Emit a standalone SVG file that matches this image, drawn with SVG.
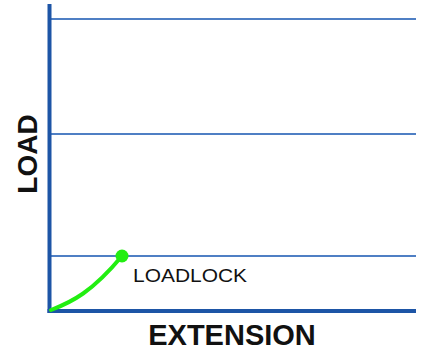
<svg xmlns="http://www.w3.org/2000/svg" width="425" height="352" viewBox="0 0 425 352">
<style>
.grid{stroke:#4f7fc4;stroke-width:2;fill:none}
.axis{stroke:#1d55a6;stroke-width:4;fill:none}
.lbl{font-family:"Liberation Sans",Arial,sans-serif;font-weight:bold;fill:#111}
</style>
<rect width="425" height="352" fill="#fff"/>
<g id="grid">
<line class="grid" x1="50" y1="19" x2="416" y2="19"/>
<line class="grid" x1="50" y1="134" x2="416" y2="134"/>
<line class="grid" x1="50" y1="256" x2="416" y2="256"/>
</g>
<g id="axes">
<line class="axis" x1="49.5" y1="4" x2="49.5" y2="313"/>
<line class="axis" x1="47.5" y1="311" x2="416" y2="311"/>
</g>
<g id="curve">
<path d="M51,310 C72,302 92,292 122,256" stroke="#22ee11" stroke-width="4" fill="none" stroke-linecap="round"/>
<circle cx="122" cy="256" r="6.5" fill="#22ee11"/>
</g>
<g id="labels">
<text x="133" y="281.5" font-family="'Liberation Sans',Arial,sans-serif" font-size="18" fill="#111" textLength="114" lengthAdjust="spacingAndGlyphs">LOADLOCK</text>
<text class="lbl" x="232" y="345" font-size="29" text-anchor="middle">EXTENSION</text>
<text class="lbl" transform="translate(37,154) rotate(-90)" font-size="28" text-anchor="middle">LOAD</text>
</g>
</svg>
